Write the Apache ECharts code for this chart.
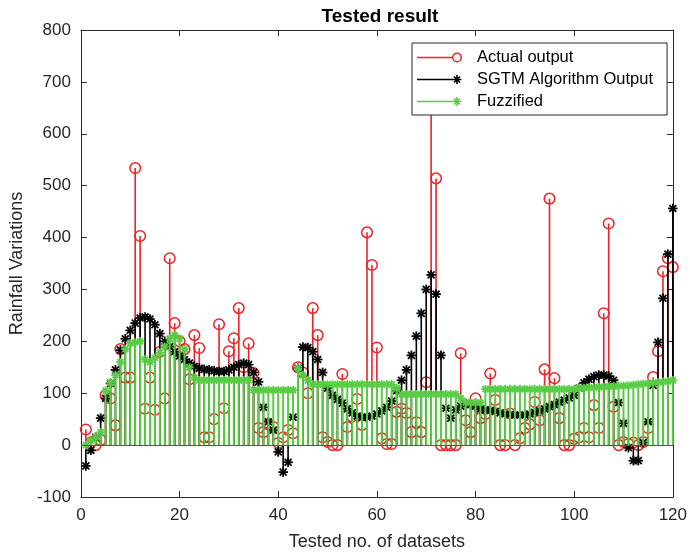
<!DOCTYPE html>
<html><head><meta charset="utf-8">
<script src="https://cdn.jsdelivr.net/npm/echarts@6.0.0/dist/echarts.min.js"></script>
<style>html,body{margin:0;padding:0;background:#fff}#c{width:690px;height:559px}</style>
</head><body><div id="c"></div>
<script>
// x positions are dataset numbers 1..120 (index + 1)
const actualOutput = [
 30,5,0,10,96,90,38,185,130,130,
 534,403,70,130,68,180,90,360,235,200,
 185,127,212,187,15,15,50,233,71,181,
 206,264,150,196,139,33,25,40,35,4,
 15,29,23,150,140,100,264,212,15,6,
 0,0,137,35,55,89,39,410,347,188,
 13,2,2,64,70,62,25,44,25,121,
 680,514,0,0,0,0,177,48,25,90,
 52,60,138,87,0,0,61,0,13,33,
 40,83,48,146,475,129,52,0,0,12,
 15,33,15,77,33,254,427,74,0,6,
 2,5,0,6,33,131,181,335,360,343];
const sgtmOutput = [
 -40,-10,15,52,90,119,145,183,205,221,
 235,245,247,243,232,215,200,190,180,172,
 165,158,152,148,146,145,143,142,142,145,
 150,155,158,155,140,122,73,45,29,-13,
 -52,-33,54,148,189,188,180,165,140,110,
 96,88,81,70,62,56,54,54,56,60,
 66,73,85,105,125,145,173,210,254,300,
 328,291,173,71,52,68,75,80,78,75,
 70,68,67,65,62,60,59,58,58,58,
 60,63,66,70,74,78,83,87,91,96,
 110,120,127,132,135,135,133,125,82,42,
 -5,-30,-30,5,45,115,198,283,368,456];
const fuzzified = [
 0,8,15,25,105,120,135,160,185,196,
 198,200,165,160,168,178,190,205,212,205,
 185,150,130,125,125,125,125,125,125,125,
 125,125,125,125,106,106,106,106,106,106,
 106,106,106,148,135,125,117,117,117,117,
 117,117,117,117,117,117,117,117,117,117,
 117,117,117,110,98,98,98,98,98,98,
 98,98,98,98,98,98,90,82,82,82,
 82,108,108,108,108,108,108,108,108,108,
 108,108,108,108,108,108,108,108,108,108,
 110,110,111,111,112,112,113,113,114,114,
 115,116,117,118,119,120,121,122,123,125];
const xTicks = [0,20,40,60,80,100,120];
const yTicks = [-100,0,100,200,300,400,500,600,700,800];
const seriesNames = ['Actual output','SGTM Algorithm Output','Fuzzified'];

const RED = '#ee2228', BLACK = '#000000', GREEN = '#58cc44', AX = '#262626';
const FONT = '"Liberation Sans", Arial, Helvetica, sans-serif';

function stemSeries(name, values, color, marker, z, stemW) {
  return {
    type: 'custom', name: name, z: z,
    data: values.map((v, i) => [i + 1, v]),
    encode: { x: 0, y: 1 },
    itemStyle: { color: color },
    renderItem: function (params, api) {
      const x = api.value(0), y = api.value(1);
      const p = api.coord([x, y]);
      const b = api.coord([x, 0]);
      const ch = [{ type: 'line', shape: { x1: b[0], y1: b[1], x2: p[0], y2: p[1] },
                    style: { stroke: color, lineWidth: stemW } }];
      if (marker === 'circle') {
        ch.push({ type: 'circle', shape: { cx: p[0], cy: p[1], r: 5.3 },
                  style: { fill: 'none', stroke: color, lineWidth: 1.5 } });
      } else {
        const r = marker === 'bigstar' ? 4.8 : 4.2, d = r * 0.72;
        [[r,0],[0,r],[d,d],[d,-d]].forEach(function (v) {
          ch.push({ type: 'line', shape: { x1: p[0]-v[0], y1: p[1]-v[1], x2: p[0]+v[0], y2: p[1]+v[1] },
                    style: { stroke: color, lineWidth: 1.8 } });
        });
      }
      return { type: 'group', children: ch };
    }
  };
}

const ringIcon = 'path://M0 0 Z M55 12 Z M0 5.2 L35.3 5.2 L35.3 6.8 L0 6.8 Z ' +
  'M40 1.0 A5 5 0 1 1 40 11 A5 5 0 1 1 40 1.0 Z ' +
  'M40 2.5 A3.5 3.5 0 1 0 40 9.5 A3.5 3.5 0 1 0 40 2.5 Z';
const starIcon = 'path://M0 0 Z M55 12 Z M0 5.2 L38 5.2 L38 6.8 L0 6.8 Z ' +
  'M35.6 5.2 L44.4 5.2 L44.4 6.8 L35.6 6.8 Z M39.2 1.6 L40.8 1.6 L40.8 10.4 L39.2 10.4 Z ' +
  'M36.4 3.5 L37.5 2.4 L43.6 8.5 L42.5 9.6 Z M42.5 2.4 L43.6 3.5 L37.5 9.6 L36.4 8.5 Z';

const chart = echarts.init(document.getElementById('c'), null, { renderer: 'canvas' });
const redSeries = stemSeries(seriesNames[0], actualOutput, RED, 'circle', 2, 1.6);
redSeries.markLine = { silent: true, symbol: 'none', animation: false,
  lineStyle: { color: '#555', width: 1, type: 'solid' }, label: { show: false },
  data: [{ yAxis: 0 }] };

const axisCommon = {
  axisLine: { show: true, onZero: false, lineStyle: { color: AX, width: 1 } },
  axisTick: { show: true, inside: true, length: 6, lineStyle: { color: AX } },
  splitLine: { show: false }
};

chart.setOption({
  animation: false,
  backgroundColor: '#fff',
  textStyle: { fontFamily: FONT },
  title: { text: 'Tested result', left: 375, textAlign: 'center', top: 2,
    textStyle: { fontSize: 19, fontWeight: 'bold', color: '#000', fontFamily: FONT } },
  grid: { left: 77, right: 17, top: 30, bottom: 62, containLabel: false },
  legend: {
    orient: 'vertical', left: 412, top: 43,
    backgroundColor: '#fff', borderColor: AX, borderWidth: 1, borderRadius: 0,
    padding: [6, 14, 5, 5], itemGap: 5, itemWidth: 55, itemHeight: 12,
    textStyle: { fontSize: 16.5, color: '#000', fontFamily: FONT },
    data: [
      { name: seriesNames[0], icon: ringIcon },
      { name: seriesNames[1], icon: starIcon },
      { name: seriesNames[2], icon: starIcon }
    ]
  },
  xAxis: [
    Object.assign({ type: 'value', min: xTicks[0], max: xTicks[xTicks.length-1], interval: 20, position: 'bottom',
      axisLabel: { fontSize: 17, color: AX, margin: 10, fontFamily: FONT },
      name: 'Tested no. of datasets', nameLocation: 'middle', nameGap: 36,
      nameTextStyle: { fontSize: 18, color: AX, fontFamily: FONT } }, axisCommon),
    Object.assign({ type: 'value', min: xTicks[0], max: xTicks[xTicks.length-1], interval: 20, position: 'top',
      axisLabel: { show: false } }, axisCommon)
  ],
  yAxis: [
    Object.assign({ type: 'value', min: yTicks[0], max: yTicks[yTicks.length-1], interval: 100, position: 'left',
      axisLabel: { fontSize: 17, color: AX, margin: 10, fontFamily: FONT },
      name: 'Rainfall Variations', nameLocation: 'middle', nameGap: 46, nameRotate: 90,
      nameTextStyle: { fontSize: 18, color: AX, fontFamily: FONT } }, axisCommon),
    Object.assign({ type: 'value', min: yTicks[0], max: yTicks[yTicks.length-1], interval: 100, position: 'right',
      axisLabel: { show: false } }, axisCommon)
  ],
  series: [
    redSeries,
    stemSeries(seriesNames[1], sgtmOutput, BLACK, 'bigstar', 3, 1.6),
    stemSeries(seriesNames[2], fuzzified, GREEN, 'star', 4, 2)
  ]
});
</script>
</body></html>
